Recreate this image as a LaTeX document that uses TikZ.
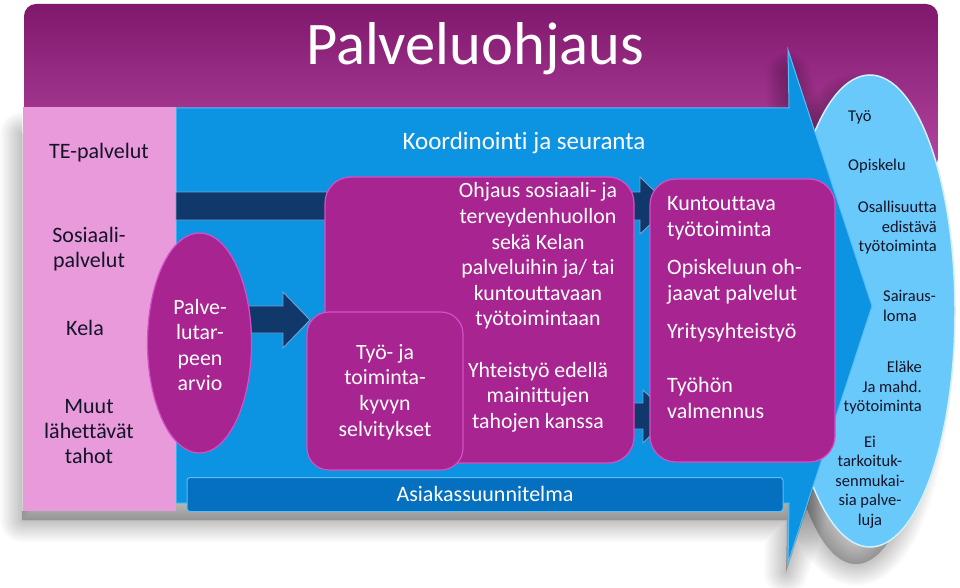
\documentclass[tikz,border=0pt]{standalone}
\usepackage{fontspec}
\setmainfont{Carlito}[Ligatures=NoCommon]
\usetikzlibrary{shapes.geometric}

\definecolor{purpTop}{RGB}{128,24,108}
\definecolor{purpBot}{RGB}{180,70,162}
\definecolor{pinkbox}{RGB}{232,154,218}
\definecolor{bluemain}{RGB}{12,148,226}
\definecolor{blueedge}{RGB}{90,190,245}
\definecolor{bluedark}{RGB}{6,112,192}
\definecolor{navy}{RGB}{16,56,106}
\definecolor{navyedge}{RGB}{120,160,210}
\definecolor{magbox}{RGB}{168,36,144}
\definecolor{magtop}{RGB}{212,80,198}
\definecolor{lightblue}{RGB}{104,201,250}
\definecolor{lbedge}{RGB}{210,240,255}
\definecolor{darktxt}{RGB}{20,20,40}

\newcommand{\softshadow}[1]{%
  \foreach \w in {2,5,...,44}{%
    \path[fill=black, draw=black, fill opacity=0.015, draw opacity=0.015,
          line width=\w pt, line join=round] #1;}}

\tikzset{
  magnode/.style={rectangle, rounded corners=26pt, fill=magbox, draw=magtop,
                  line width=1.2pt, inner sep=0pt},
  navyarrow/.style={fill=navy, draw=navyedge, line width=0.9pt, line join=miter},
  wtxt/.style={text=white, font=\fontsize{21.8}{25.6}\selectfont, align=center, inner sep=0pt},
  wtxtl/.style={text=white, font=\fontsize{22}{26}\selectfont, align=left, inner sep=0pt, anchor=west},
  dtxt/.style={text=darktxt, font=\fontsize{22}{25}\selectfont, align=center, inner sep=0pt},
  stxt/.style={text=darktxt, font=\fontsize{16.5}{19.5}\selectfont, inner sep=0pt},
}

\begin{document}
\begin{tikzpicture}[x=1pt,y=-1pt]
\useasboundingbox (0,0) rectangle (960,588);
\fill[white] (0,0) rectangle (960,588);

% purple header panel
\shade[top color=purpTop, bottom color=purpBot, rounded corners=12pt]
  (24,4) rectangle (938,170);

% shadows
\softshadow{(22,134) -- (789,134) -- (788,74) -- (868,322) -- (786,572) -- (787,520) -- (22,520) -- cycle}
\softshadow{(856,330) ellipse [x radius=76, y radius=234]}

% light-blue outcome ellipse
\node[ellipse, fill=lightblue, draw=lbedge, line width=1.5pt, minimum width=170pt,
      minimum height=472pt, inner sep=0pt] (outc) at (870,311) {};

% big blue arrow
\draw[fill=bluemain, draw=blueedge, line width=1pt, line join=miter]
  (176,108) -- (789,108) -- (788,50) -- (872,306) -- (788,563) -- (789,503)
  -- (176,503) -- cycle;

% pink source box
\node[rectangle, fill=pinkbox, minimum width=153pt, minimum height=403pt,
      inner sep=0pt] (src) at (99.5,309) {};
\draw[white, opacity=0.6, line width=1.2pt] (src.north west) -- (src.south west);

% navy arrows
\draw[navyarrow] (176,192) -- (640,192) -- (640,177) -- (670,206) -- (640,234)
  -- (640,220) -- (176,220) -- cycle;
\draw[navyarrow] (240,306) -- (283,306) -- (283,292) -- (310,320) -- (283,348)
  -- (283,333) -- (240,333) -- cycle;
\draw[navyarrow] (620,403) -- (643,403) -- (643,390) -- (670,416) -- (643,443)
  -- (643,429) -- (620,429) -- cycle;

% service need ellipse
\node[ellipse, fill=magbox, draw=magtop, line width=1.2pt, minimum width=104pt,
      minimum height=220pt, inner sep=0pt] (need) at (199.5,343) {};

% boxes
\node[magnode, minimum width=309pt, minimum height=286pt] (ohj) at (479.5,320) {};
\node[magnode, rounded corners=22pt, minimum width=156pt, minimum height=158pt] (tyo) at (385,391) {};
\node[magnode, minimum width=185pt, minimum height=283pt] (kun) at (742.5,320.5) {};

% plan bar
\node[rectangle, rounded corners=3pt, fill=bluedark, draw=blueedge, line width=1pt,
      minimum width=596pt, minimum height=34pt, inner sep=0pt] (plan) at (485,494.5) {};

% texts
\node[text=white, font=\fontsize{60.5}{62}\selectfont, inner sep=0pt] (title) at (475,49) {Palveluohjaus};
\node[text=white, font=\fontsize{25}{28}\selectfont, inner sep=0pt] (koord) at (524,143) {Koordinointi ja seuranta};
\node[text=white, font=\fontsize{22}{26}\selectfont, inner sep=0pt] (plantxt) at (485,494) {Asiakassuunnitelma};

\node[dtxt] (te) at (99,153) {TE-palvelut};
\node[dtxt] (sos) at (89,249) {Sosiaali-\\palvelut};
\node[dtxt] (kela) at (85,328) {Kela};
\node[dtxt] (muut) at (89,432) {Muut\\lähettävät\\tahot};

\node[wtxt] (needtxt) at (200,345) {Palve-\\lutar-\\peen\\arvio};
\node[wtxt] (tyotxt) at (385,392) {Työ- ja\\toiminta-\\kyvyn\\selvitykset};
\node[wtxt] (ohj1) at (538,256) {Ohjaus sosiaali- ja\\terveydenhuollon\\sekä Kelan\\palveluihin ja/ tai\\kuntouttavaan\\työtoimintaan};
\node[wtxt] (ohj2) at (538,397) {Yhteistyö edellä\\mainittujen\\tahojen kanssa};

\node[wtxtl] (k1) at (667,218) {Kuntouttava\\työtoiminta};
\node[wtxtl] (k2) at (667,282) {Opiskeluun oh-\\jaavat palvelut};
\node[wtxtl] (k3) at (667,333) {Yritysyhteistyö};
\node[wtxtl] (k4) at (667,398) {Työhön\\valmennus};

\node[stxt, anchor=west] (o1) at (848,117) {Työ};
\node[stxt, anchor=west] (o2) at (848,166) {Opiskelu};
\node[stxt, anchor=east, align=right] (o3) at (937,228) {Osallisuutta\\edistävä\\työtoiminta};
\node[stxt, anchor=west, align=left] (o4) at (883,306) {Sairaus-\\loma};
\node[stxt, anchor=east, align=right] (o5) at (922,388) {Eläke\\Ja mahd.\\työtoiminta};
\node[stxt, align=center] (o6) at (870,482) {Ei\\tarkoituk-\\senmukai-\\sia palve-\\luja};
\end{tikzpicture}
\end{document}
